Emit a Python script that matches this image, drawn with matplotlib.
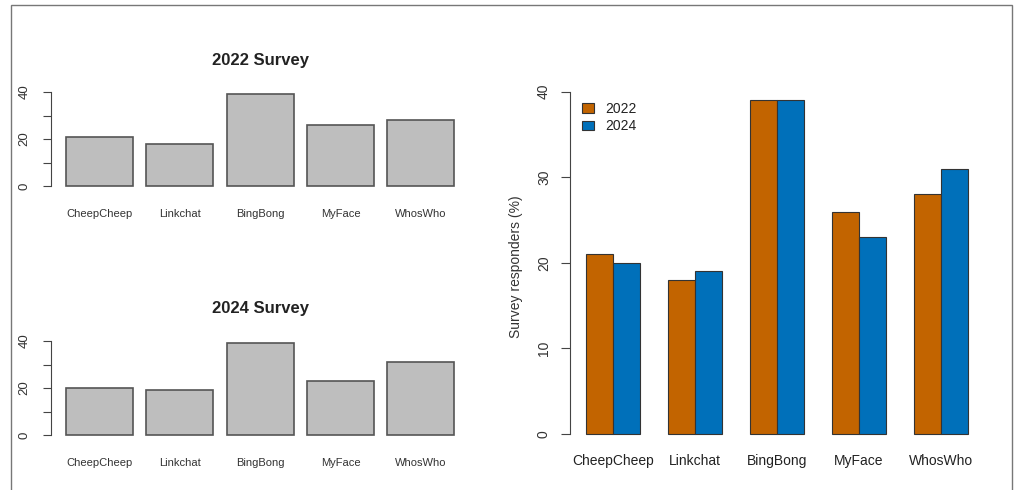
import numpy as np
import matplotlib
matplotlib.use("Agg")
import matplotlib.pyplot as plt
from matplotlib.patches import Rectangle

platforms = ["CheepCheep", "Linkchat", "BingBong", "MyFace", "WhosWho"]
survey_2022 = [21, 18, 39, 26, 28]
survey_2024 = [20, 19, 39, 23, 31]
years = ["2022", "2024"]

plt.rcParams['font.family'] = ['Liberation Sans', 'DejaVu Sans']

W, H = 1015, 490
fig = plt.figure(figsize=(W / 100, H / 100), dpi=100)

def fig_rect(x0, x1, ytop, ybot):
    return [x0 / W, 1 - ybot / H, (x1 - x0) / W, (ybot - ytop) / H]

axis_col = "#444444"
text_col = "#333333"

def style_axis(ax, ticks, labels, ticklen, pad, fs):
    for s in ["top", "right", "bottom"]:
        ax.spines[s].set_visible(False)
    ax.spines["left"].set_bounds(0, 40)
    ax.spines["left"].set_color(axis_col)
    ax.set_yticks(ticks)
    ax.set_yticklabels(labels, rotation=90, va="center", fontsize=fs, color=text_col)
    ax.tick_params(axis="y", length=ticklen, color=axis_col, pad=pad)
    ax.set_ylim(-1.56, 40.56)

# Small multiples (left)
left_panels = [
    ("2022 Survey", survey_2022, (90.7, 189.7), 60),
    ("2024 Survey", survey_2024, (339.7, 438.7), 308),
]
for title, vals, (yt, yb), ty in left_panels:
    ax = fig.add_axes(fig_rect(50.5, 470, yt, yb))
    x = 0.2 + 1.2 * np.arange(len(platforms))
    ax.bar(x, vals, width=1.0, align="edge", color="#BEBEBE",
           edgecolor="#555555", linewidth=1.2)
    ax.set_xlim(-0.032, 6.232)
    style_axis(ax, [0, 10, 20, 30, 40], ["0", "", "20", "", "40"], 5.8, 8.5, 9.5)
    ax.set_xticks(x + 0.5)
    ax.set_xticklabels(platforms, fontsize=8, color=text_col)
    ax.tick_params(axis="x", length=0, pad=13.8)
    fig.text(260 / W, 1 - ty / H, title, ha="center", va="center",
             fontsize=12, fontweight="bold", color="#222222")

# Grouped bars (right)
ax = fig.add_axes(fig_rect(570.4, 983.6, 86.9, 447.4))
g = 1 + 3 * np.arange(len(platforms))
ax.bar(g, survey_2022, width=1.0, align="edge", color="#C26400",
       edgecolor="#333333", linewidth=0.8, label=years[0])
ax.bar(g + 1, survey_2024, width=1.0, align="edge", color="#0070BA",
       edgecolor="#333333", linewidth=0.8, label=years[1])
ax.set_xlim(0.44, 15.56)
style_axis(ax, [0, 10, 20, 30, 40], ["0", "10", "20", "30", "40"], 6.5, 7.5, 10)
ax.set_xticks(g + 1)
ax.set_xticklabels(platforms, fontsize=10, color="#222222")
ax.tick_params(axis="x", length=0, pad=5)
ax.set_ylabel("Survey responders (%)", fontsize=10, color=text_col, labelpad=10)
leg = ax.legend(loc="upper left", bbox_to_anchor=(582 / W, 1 - 102 / H),
                bbox_transform=fig.transFigure, frameon=False, fontsize=10,
                handlelength=0.86, handleheight=0.65, handletextpad=0.8,
                labelspacing=0.25, borderaxespad=0, borderpad=0)
for t in leg.get_texts():
    t.set_color("#222222")

# outer frame
fig.add_artist(Rectangle((10.5 / W, -0.1), (1011.5 - 10.5) / W, 1.1 - 5.5 / H,
                         transform=fig.transFigure, fill=False,
                         edgecolor="#777777", linewidth=1.0))

fig.savefig("out.png", dpi=100)
